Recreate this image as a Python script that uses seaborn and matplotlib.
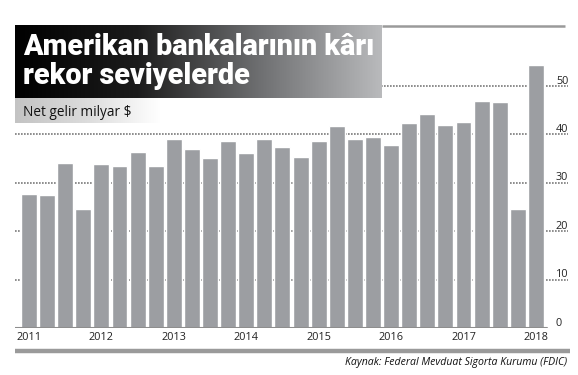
import numpy as np
import pandas as pd
from matplotlib import pyplot as plt
import seaborn as sns

# quarterly net income of US banks, billion $ (2011Q1 .. 2018Q1)
years = [2011, 2012, 2013, 2014, 2015, 2016, 2017, 2018]
quarters = [f'{y}Q{q}' for y in years[:-1] for q in range(1, 5)] + ['2018Q1']
net_income = [27.6, 27.4, 34.0, 24.5,
              33.8, 33.4, 36.3, 33.4,
              39.0, 36.9, 35.1, 38.6,
              36.1, 39.0, 37.3, 35.3,
              38.6, 41.6, 39.0, 39.4,
              37.7, 42.3, 44.1, 41.9,
              42.5, 46.8, 46.6, 24.5,
              54.2]
y_ticks = [0, 10, 20, 30, 40, 50]

title_lines = ['Amerikan bankalarının kârı', 'rekor seviyelerde']
subtitle = 'Net gelir milyar $'
source = 'Kaynak: Federal Mevduat Sigorta Kurumu (FDIC)'

df = pd.DataFrame({'quarter': quarters, 'net': net_income})

sns.set_style('white')
plt.rcParams['font.family'] = ['Open Sans', 'DejaVu Sans']

W, H = 578, 375
fig = plt.figure(figsize=(W / 100, H / 100), dpi=100)

# main chart area in pixel terms: x 15..568, y 60..328
ax = fig.add_axes([15 / W, (H - 328) / H, 553 / W, 268 / H])
sns.barplot(data=df, x='quarter', y='net', color='#9c9ea2', saturation=1,
            width=0.88, ax=ax, zorder=2)
ax.set_xlim(-0.77, 29.77)
ax.set_ylim(0, 55.3)
ax.set_xlabel('')
ax.set_ylabel('')
for s in ax.spines.values():
    s.set_visible(False)

# dotted gridlines behind the bars
ax.set_yticks(y_ticks[1:])
ax.yaxis.grid(True, linestyle=(0, (1, 0.8)), color='#7a7a7a', linewidth=1.2, zorder=0)
ax.set_axisbelow(True)
ax.tick_params(axis='y', left=False, labelleft=False)
ax.axhline(0, xmin=0, xmax=0.962, color='#8e8e8e', linewidth=1.5, zorder=3)

# year labels under each first quarter
ax.set_xticks([quarters.index(f'{y}Q1') for y in years])
ax.set_xticklabels([str(y) for y in years], fontsize=7.8, color='#222222')
ax.tick_params(axis='x', length=0, pad=3.2)

# value labels on the right, sitting on the gridlines
for v in y_ticks:
    ax.text(29.1, v + 0.45, str(v), ha='left', va='baseline', fontsize=7.8,
            color='#222222')

# overlay for title boxes and rules, in pixel coordinates
ov = fig.add_axes([0, 0, 1, 1], zorder=5)
ov.axis('off')
ov.patch.set_alpha(0)

grad = np.linspace(0, 1, 256).reshape(1, -1)
title_cmap = sns.blend_palette(['#000000', '#1c1c1c', '#6e6f71', '#b9babc'], as_cmap=True)
ov.imshow(grad, cmap=title_cmap, extent=(15, 382, 98, 25), aspect='auto', zorder=1)
sub_cmap = sns.blend_palette(['#c3c3c3', '#dcdcdc', '#ffffff'], as_cmap=True)
ov.imshow(grad, cmap=sub_cmap, extent=(15, 160, 123, 98), aspect='auto', zorder=1)
ov.set_xlim(0, W)
ov.set_ylim(H, 0)

ov.plot([382, 565], [26, 26], color='#9a9a9a', linewidth=1.8, solid_capstyle='butt')
ov.plot([15, 570], [350.5, 350.5], color='#9a9a9a', linewidth=3.2, solid_capstyle='butt')

t1 = ov.text(23, 55, title_lines[0], color='white', fontsize=19,
             fontweight='heavy', family=['Roboto', 'DejaVu Sans'],
             va='baseline', ha='left', zorder=3)
t2 = ov.text(23, 84, title_lines[1], color='white', fontsize=19,
             fontweight='heavy', family=['Roboto', 'DejaVu Sans'],
             va='baseline', ha='left', zorder=3)
# shrink the headline so the first line fits the box like the original
r = fig.canvas.get_renderer()
w = t1.get_window_extent(r).width
size = 19 * 352 / w
t1.set_fontsize(size)
t2.set_fontsize(size)

ov.text(23, 115.5, subtitle, color='#111111', fontsize=9.8, va='baseline',
        ha='left', zorder=3)
ov.text(567, 365, source, color='#111111', fontsize=7.6, style='italic',
        va='baseline', ha='right', zorder=3)

fig.savefig('out.png', dpi=100)
